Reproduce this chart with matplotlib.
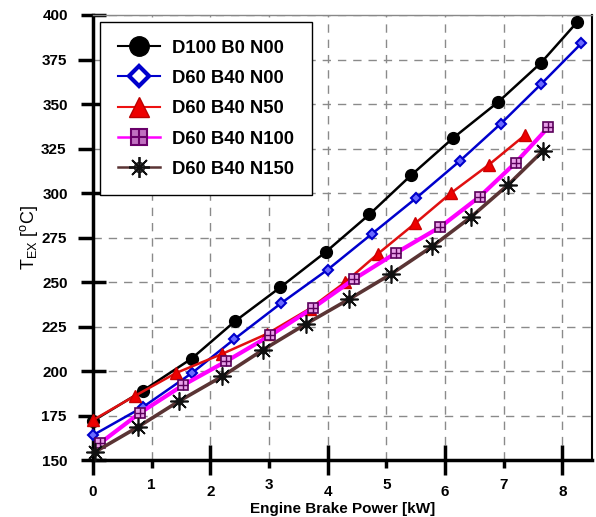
import matplotlib
matplotlib.use("Agg")
import matplotlib.pyplot as plt
from matplotlib.ticker import FixedLocator, FixedFormatter

plt.rcParams['font.family'] = ['Liberation Sans', 'DejaVu Sans']

# ---- data ----
labels = ["D100 B0 N00", "D60 B40 N00", "D60 B40 N50", "D60 B40 N100", "D60 B40 N150"]
power_d100 = [0, 0.85, 1.68, 2.42, 3.19, 3.97, 4.71, 5.42, 6.14, 6.9, 7.63, 8.25]
tex_d100 = [172, 189, 207, 228, 247, 267, 288, 310, 331, 351, 373, 396]
power_n00 = [0, 0.86, 1.69, 2.41, 3.2, 4.0, 4.75, 5.5, 6.25, 6.95, 7.63, 8.32]
tex_n00 = [164, 180, 199, 218, 238, 257, 277, 297, 318, 339, 361, 384]
power_n50 = [0, 0.71, 1.42, 2.19, 2.97, 3.69, 4.3, 4.86, 5.49, 6.1, 6.75, 7.36]
tex_n50 = [172.5, 186, 199, 209.5, 221, 235, 250, 266, 283, 300, 316, 332.5]
power_n100 = [0.12, 0.8, 1.53, 2.27, 3.02, 3.75, 4.44, 5.17, 5.92, 6.59, 7.2, 7.76]
tex_n100 = [159.5, 176.5, 192, 205.5, 220, 235.5, 251.5, 266.5, 281, 298, 317, 337]
power_n150 = [0.03, 0.76, 1.46, 2.2, 2.9, 3.63, 4.37, 5.08, 5.78, 6.44, 7.07, 7.66]
tex_n150 = [154.5, 168.5, 183, 197, 212, 226.5, 240.5, 254.5, 270, 286.5, 304.5, 323.5]

x_major = [0, 2, 4, 6, 8]
x_minor = [1, 3, 5, 7]
y_major = [150, 200, 250, 300, 350, 400]
y_minor = [175, 225, 275, 325, 375]

fig = plt.figure(figsize=(5.96, 5.17), dpi=100)
ax = fig.add_axes([0.156, 0.110, 0.837, 0.861])

# grid
ax.set_axisbelow(True)
ax.grid(True, which='both', linestyle=(0, (6, 5)), color='#8a8a8a', linewidth=1.0)

# series
ax.plot(power_d100, tex_d100, '-', color='black', lw=1.8, marker='o', ms=8.5,
        mfc='black', mec='black', clip_on=False, zorder=3)
ax.plot(power_n00, tex_n00, '-', color='#0000cc', lw=1.8, marker='D', ms=5.5,
        mfc='#6a6aff', mec='#0000cc', mew=1.5, clip_on=False, zorder=3)
ax.plot(power_n50, tex_n50, '-', color='#e01010', lw=1.8, marker='^', ms=8,
        mfc='#ee0000', mec='#cc0000', clip_on=False, zorder=3)
ax.plot(power_n100, tex_n100, '-', color='#ff00ff', lw=3.0, marker='s', ms=7,
        mfc='#e8a0e8', mec='#5a005a', mew=1.2, clip_on=False, zorder=3)
ax.plot(power_n100, tex_n100, ls='none', marker='+', ms=7, mec='#5a005a', mew=1.0,
        clip_on=False, zorder=4)
ax.plot(power_n150, tex_n150, '-', color='#5a3434', lw=2.6, marker='o', ms=5,
        mfc='#9a8a8a', mec='#222222', mew=1.0, clip_on=False, zorder=3)
ax.plot(power_n150, tex_n150, ls='none', marker=(8, 2, 0), ms=13, mec='#111111', mew=1.2,
        clip_on=False, zorder=4)

ax.set_xlim(0, 8.5)
ax.set_ylim(150, 400)

ax.xaxis.set_major_locator(FixedLocator(x_major))
ax.xaxis.set_minor_locator(FixedLocator(x_minor))
ax.xaxis.set_major_formatter(FixedFormatter([str(v) for v in x_major]))
ax.xaxis.set_minor_formatter(FixedFormatter([str(v) for v in x_minor]))
ax.yaxis.set_major_locator(FixedLocator(y_major))
ax.yaxis.set_minor_locator(FixedLocator(y_minor))
ax.yaxis.set_major_formatter(FixedFormatter([str(v) for v in y_major]))
ax.yaxis.set_minor_formatter(FixedFormatter([str(v) for v in y_minor]))

ax.tick_params(axis='x', which='major', direction='inout', length=22, width=2.5, pad=7,
               labelsize=11)
ax.tick_params(axis='x', which='minor', direction='out', length=6, width=2.5, pad=7,
               labelsize=11)
ax.tick_params(axis='y', which='major', direction='inout', length=18, width=2.5, pad=9,
               labelsize=11)
ax.tick_params(axis='y', which='minor', direction='out', length=11, width=2.5, pad=8,
               labelsize=11)
for t in ax.get_xticklabels(which='both') + ax.get_yticklabels(which='both'):
    t.set_fontweight('bold')

ax.spines['left'].set_linewidth(2.5)
ax.spines['bottom'].set_linewidth(2.5)
ax.spines['right'].set_linewidth(1.5)
ax.spines['top'].set_linewidth(1.0)
ax.spines['top'].set_color('#888888')

ax.set_xlabel('Engine Brake Power [kW]', fontsize=11, fontweight='bold', labelpad=2)
ax.set_ylabel(r'T$_{\mathregular{EX}}$ [$^{\mathregular{o}}$C]', fontsize=13, labelpad=1)

# legend proxies with larger markers
h1, = ax.plot([], [], '-', color='black', lw=1.5, marker='o', ms=14, mfc='black', mec='black')
h2, = ax.plot([], [], '-', color='#0000cc', lw=1.5, marker='D', ms=10, mfc='white', mec='#0000cc', mew=3)
h3, = ax.plot([], [], '-', color='#ee1111', lw=1.5, marker='^', ms=14, mfc='#ee0000', mec='#bb0000')
h4, = ax.plot([], [], '-', color='#ff00ff', lw=1.8, marker='s', ms=12, mfc='#c070c0', mec='#6a006a', mew=1.5)
h4b, = ax.plot([], [], ls='none', marker='+', ms=12, mec='#6a006a', mew=1.5)
h5, = ax.plot([], [], '-', color='#5a3434', lw=1.8, marker='o', ms=7, mfc='white', mec='#222222', mew=1.2)
h5b, = ax.plot([], [], ls='none', marker=(8, 2, 0), ms=15, mec='#111111', mew=1.3)

leg = ax.legend([h1, h2, h3, (h4, h4b), (h5, h5b)], labels, loc='upper left',
                bbox_to_anchor=(0.014, 0.984), borderaxespad=0, frameon=True, fancybox=False,
                edgecolor='black', framealpha=1, handlelength=2.3, handletextpad=0.65,
                labelspacing=0.72, borderpad=0.95, prop={'weight': 'bold', 'size': 13.3})
leg.get_frame().set_linewidth(1.0)
leg.set_zorder(10)

fig.savefig('out.png', dpi=100)
